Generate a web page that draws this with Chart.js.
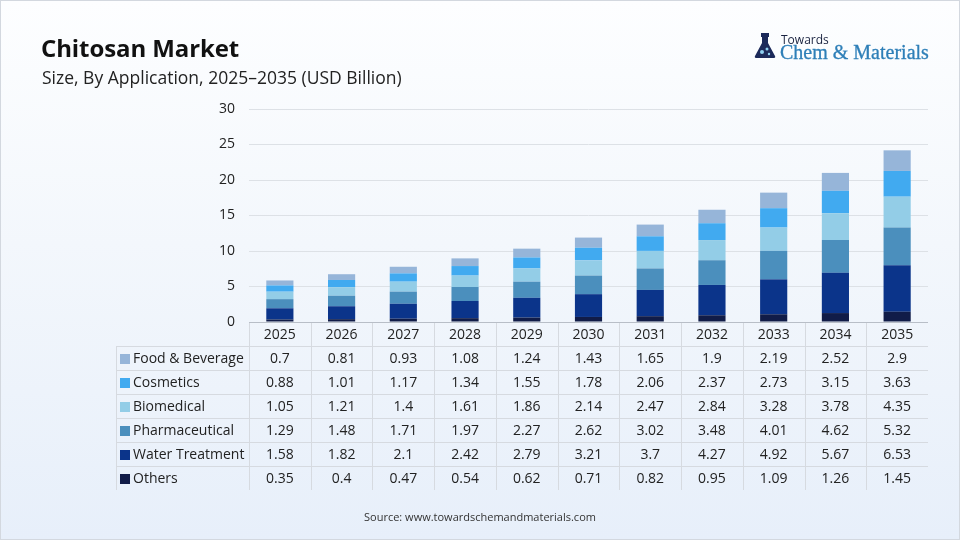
<!DOCTYPE html>
<html>
<head>
<meta charset="utf-8">
<script src="https://cdn.jsdelivr.net/npm/chart.js@4.4.1/dist/chart.umd.min.js"></script>
<style>
  html, body { margin: 0; padding: 0; }
  body { width: 960px; height: 540px; overflow: hidden; font-family: "Open Sans", sans-serif; }
  #wrap {
    position: relative; width: 958px; height: 538px; border: 1px solid #d3d8df;
    background: linear-gradient(to bottom, #fdfeff 0%, #f3f7fc 45%, #e7effa 100%);
  }
  #chartBox { position: absolute; left: 0; top: 0; width: 958px; height: 538px; }
  .title { position: absolute; left: 40px; top: 30px; font-size: 24px; font-weight: 700; color: #111; letter-spacing: -0.1px; }
  .subtitle { position: absolute; left: 41px; top: 64px; font-size: 17.5px; color: #222; }
  .logo { position: absolute; left: 752px; top: 30px; width: 190px; height: 30px; }
  .logo .towards { position: absolute; left: 28px; top: 3px; line-height: 1; font-size: 12px; color: #1a2340; font-family: "Open Sans", sans-serif; }
  .logo .brand { position: absolute; left: 27px; top: 11px; line-height: 1; font-size: 20px; color: #2e7fb8; font-family: "Liberation Serif", serif; white-space: nowrap; -webkit-text-stroke: 0.3px #2e7fb8; }
  .logo svg { position: absolute; left: 0; top: 2px; }
  .source { position: absolute; left: 0; width: 958px; top: 508px; text-align: center; font-size: 11px; color: #333; }
</style>
</head>
<body>
<div id="wrap">
  <div id="chartBox"><canvas id="chitosanChart"></canvas></div>
  <div class="title">Chitosan Market</div>
  <div class="subtitle">Size, By Application, 2025–2035 (USD Billion)</div>
  <div class="logo">
    <svg width="24" height="26" viewBox="0 0 24 26">
      <rect x="8" y="0" width="8" height="4" fill="#1c2a5a"/>
      <path d="M9 4 L15 4 L15 10 L22 23 Q23 25 20 25 L4 25 Q1 25 2 23 L9 10 Z" fill="#1c2a5a"/>
      <circle cx="9" cy="19" r="2" fill="#8fd0f0"/>
      <circle cx="14" cy="16" r="1.5" fill="#8fd0f0"/>
      <circle cx="16" cy="21" r="1.2" fill="#8fd0f0"/>
    </svg>
    <div class="towards">Towards</div>
    <div class="brand">Chem &amp; Materials</div>
  </div>
  <div class="source">Source: www.towardschemandmaterials.com</div>
</div>

<script>
// ---- data ----
var years = ['2025','2026','2027','2028','2029','2030','2031','2032','2033','2034','2035'];

var foodBeverage   = [0.7, 0.81, 0.93, 1.08, 1.24, 1.43, 1.65, 1.9, 2.19, 2.52, 2.9];
var cosmetics      = [0.88, 1.01, 1.17, 1.34, 1.55, 1.78, 2.06, 2.37, 2.73, 3.15, 3.63];
var biomedical     = [1.05, 1.21, 1.4, 1.61, 1.86, 2.14, 2.47, 2.84, 3.28, 3.78, 4.35];
var pharmaceutical = [1.29, 1.48, 1.71, 1.97, 2.27, 2.62, 3.02, 3.48, 4.01, 4.62, 5.32];
var waterTreatment = [1.58, 1.82, 2.1, 2.42, 2.79, 3.21, 3.7, 4.27, 4.92, 5.67, 6.53];
var others         = [0.35, 0.4, 0.47, 0.54, 0.62, 0.71, 0.82, 0.95, 1.09, 1.26, 1.45];

var yTicks = [0, 5, 10, 15, 20, 25, 30];

// bottom of stack first
var seriesNames  = ['Others','Water Treatment','Pharmaceutical','Biomedical','Cosmetics','Food & Beverage'];
var seriesValues = [others, waterTreatment, pharmaceutical, biomedical, cosmetics, foodBeverage];
var seriesColors = ['#111c48','#0b348a','#4b8fbd','#93cde7','#41aaf0','#96b5d9'];

var TEXT_FONT = '"Open Sans", sans-serif';
var ROW_H = 24;
var LABEL_COL_LEFT = 115;

// draws the data table under the plot, lined up with the x scale
var dataTablePlugin = {
	id: 'dataTable',
	afterDraw: function(chart)
	{
		var ctx = chart.ctx;
		var xs = chart.scales.x;
		var area = chart.chartArea;
		var top = area.bottom;
		var colW = (xs.right - xs.left) / years.length;
		var nRows = seriesNames.length;
		var bottom = top + ROW_H * (nRows + 1);

		ctx.save();
		ctx.lineWidth = 1;
		ctx.strokeStyle = '#d6dae0';

		// horizontal lines
		for (var r = 1; r <= nRows; r++)
		{
			var y = Math.round(top + r * ROW_H) + 0.5;
			ctx.beginPath();
			ctx.moveTo(LABEL_COL_LEFT, y);
			ctx.lineTo(xs.right, y);
			ctx.stroke();
		}
		// vertical lines
		for (var c = 0; c < years.length; c++)
		{
			var x = Math.round(xs.left + c * colW) + 0.5;
			ctx.beginPath();
			ctx.moveTo(x, top);
			ctx.lineTo(x, bottom);
			ctx.stroke();
		}
		ctx.beginPath();
		ctx.moveTo(LABEL_COL_LEFT + 0.5, top + ROW_H);
		ctx.lineTo(LABEL_COL_LEFT + 0.5, bottom);
		ctx.stroke();

		// axis line on top of the table
		ctx.strokeStyle = '#b8bec7';
		ctx.beginPath();
		ctx.moveTo(xs.left, Math.round(top) + 0.5);
		ctx.lineTo(xs.right, Math.round(top) + 0.5);
		ctx.stroke();

		ctx.font = '14px ' + TEXT_FONT;
		ctx.fillStyle = '#222';
		ctx.textBaseline = 'middle';
		ctx.textAlign = 'center';

		// year header
		years.forEach(function(yr, i)
		{
			ctx.fillText(yr, xs.getPixelForValue(i), top + ROW_H / 2 + 1);
		});

		// rows: top of stack first
		for (var k = 0; k < nRows; k++)
		{
			var s = nRows - 1 - k;
			var cy = top + ROW_H * (k + 1) + ROW_H / 2 + 1;
			ctx.fillStyle = seriesColors[s];
			ctx.fillRect(LABEL_COL_LEFT + 4, cy - 5, 10, 10);
			ctx.fillStyle = '#222';
			ctx.textAlign = 'left';
			ctx.fillText(seriesNames[s], LABEL_COL_LEFT + 17, cy);
			ctx.textAlign = 'center';
			seriesValues[s].forEach(function(v, i)
			{
				ctx.fillText(String(v), xs.getPixelForValue(i), cy);
			});
		}
		ctx.restore();
	}
};

var datasets = seriesNames.map(function(name, i)
{
	return {
		label: name,
		data: seriesValues[i],
		backgroundColor: seriesColors[i],
		borderWidth: 0,
		barPercentage: 0.44,
		categoryPercentage: 1.0
	};
});

new Chart(document.getElementById('chitosanChart'), {
	type: 'bar',
	data: { labels: years, datasets: datasets },
	options: {
		responsive: true,
		maintainAspectRatio: false,
		animation: false,
		layout: { padding: { left: 0, right: 31, top: 108, bottom: 217 } },
		plugins: {
			legend: { display: false },
			tooltip: { enabled: false },
			title: { display: false }
		},
		scales: {
			x: {
				stacked: true,
				display: false
			},
			y: {
				stacked: true,
				min: 0,
				max: 30,
				afterFit: function(scale) { scale.width = 248; },
				afterBuildTicks: function(scale) { scale.ticks = yTicks.map(function(v) { return { value: v }; }); },
				border: { display: false },
				grid: { color: '#dde1e6', drawTicks: false },
				ticks: {
					padding: 14,
					color: '#222',
					font: { family: TEXT_FONT, size: 14 }
				}
			}
		}
	},
	plugins: [dataTablePlugin]
});
</script>
</body>
</html>
